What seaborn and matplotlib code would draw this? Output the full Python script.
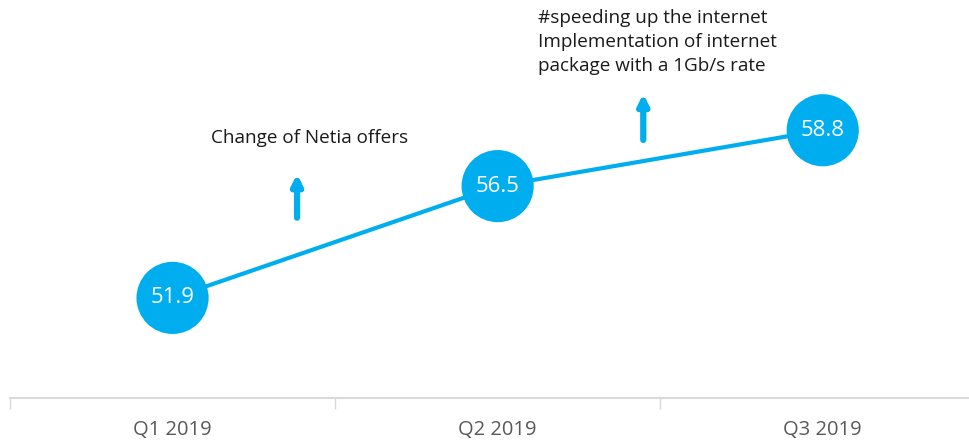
import matplotlib
matplotlib.use("Agg")
import matplotlib.pyplot as plt
import seaborn as sns
import pandas as pd

quarters = ["Q1 2019", "Q2 2019", "Q3 2019"]
values = [51.9, 56.5, 58.8]
note1 = "Change of Netia offers"
note2 = "#speeding up the internet\nImplementation of internet\npackage with a 1Gb/s rate"

BLUE = "#00AEEF"
sns.set_theme(style="white")
plt.rcParams["font.family"] = ["Open Sans", "DejaVu Sans"]

df = pd.DataFrame({"x": range(len(quarters)), "v": values})

fig = plt.figure(figsize=(9.69, 4.43), dpi=100)
ax = fig.add_axes([10 / 969, 45 / 443, 1 - 10 / 969, 1 - 45 / 443])

sns.lineplot(data=df, x="x", y="v", ax=ax, color=BLUE, linewidth=3, zorder=2)
sns.scatterplot(data=df, x="x", y="v", ax=ax, color=BLUE, s=2700,
                edgecolor="none", zorder=3, legend=False)
for i, v in enumerate(values):
    ax.text(i, v, f"{v:.1f}", ha="center", va="center", color="white",
            fontsize=16, zorder=4)

ax.set_xlim(-0.5, 2.45)
ax.set_ylim(47.78, 64.16)

# annotations with up arrows
ax.annotate("", xy=(0.383, 57.0), xytext=(0.383, 55.2),
            arrowprops=dict(arrowstyle="-|>,head_length=0.5,head_width=0.25",
                            color=BLUE, lw=4.5, shrinkA=0, shrinkB=0))
ax.annotate("", xy=(1.448, 60.3), xytext=(1.448, 58.4),
            arrowprops=dict(arrowstyle="-|>,head_length=0.5,head_width=0.25",
                            color=BLUE, lw=4.5, shrinkA=0, shrinkB=0))
ax.text(0.423, 58.48, note1, ha="center", va="center", fontsize=13.6, color="#1a1a1a")
ax.text(1.125, 63.8, note2, ha="left", va="top", fontsize=13.6, color="#1a1a1a",
        linespacing=1.45)

# axis styling
for s in ["top", "right", "left"]:
    ax.spines[s].set_visible(False)
ax.spines["bottom"].set_color("#d9d9d9")
ax.spines["bottom"].set_linewidth(1.5)
ax.set_yticks([])
ax.set_xticks(range(len(quarters)))
ax.set_xticklabels(quarters, fontsize=14.5, color="#595959")
ax.set_xticks([-0.5, 0.5, 1.5], minor=True)
ax.tick_params(axis="x", which="major", length=0, pad=16)
ax.tick_params(axis="x", which="minor", length=8, width=1, color="#d9d9d9",
               direction="out", bottom=True)
ax.set_xlabel("")
ax.set_ylabel("")

fig.savefig("out.png", dpi=100)
